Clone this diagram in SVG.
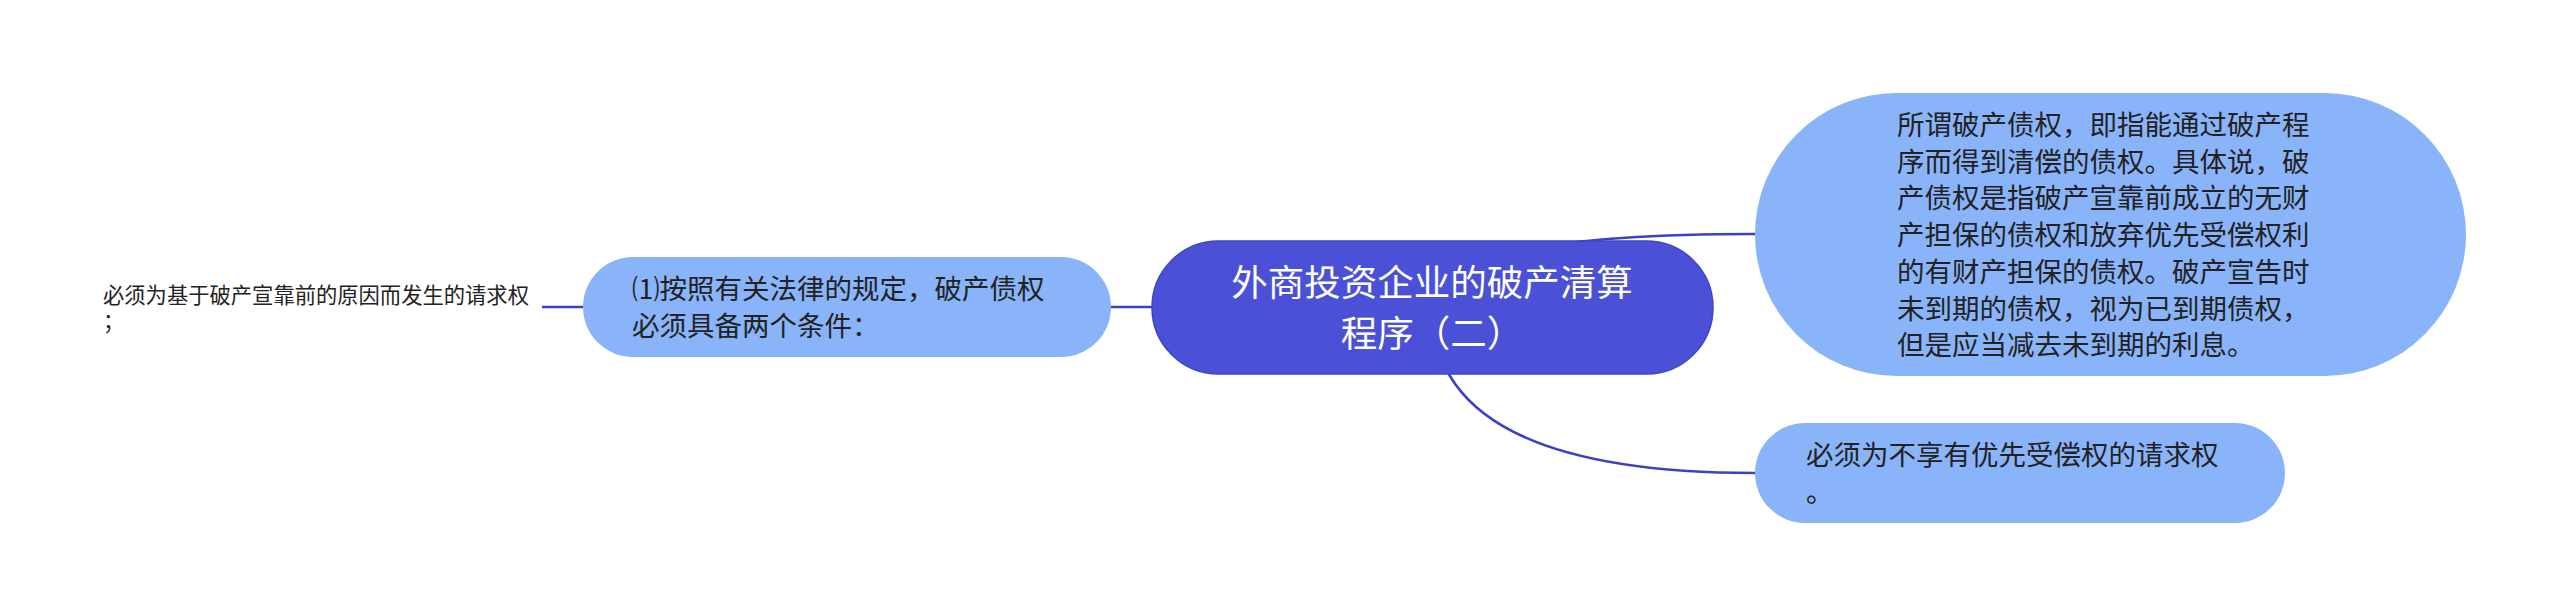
<svg xmlns="http://www.w3.org/2000/svg" width="2560" height="615" viewBox="0 0 2560 615">
  <style>
    .conn { fill: none; stroke: #3C40C2; stroke-width: 2.6; }
    .child { fill: #8AB4F9; }
    .root { fill: #4A51D7; stroke: #3E44C6; stroke-width: 1.5; }
    .t { font-family: "Noto Sans CJK SC", "Noto Sans", sans-serif; fill: #222222; }
    .rt { font-family: "Noto Sans CJK SC", "Noto Sans", sans-serif; fill: #FFFFFF; font-size: 36.5px; }
  </style>
  <rect width="2560" height="615" fill="#FFFFFF"/>
  <g id="connectors">
    <path class="conn" d="M1432 307 Q1432 234 1755 234"/>
    <path class="conn" d="M1432 307 Q1432 473 1755 473"/>
    <path class="conn" d="M1432 307 L847 307"/>
    <path class="conn" d="M847 307 L542 307"/>
  </g>
  <g id="root">
    <rect class="root" x="1152" y="241" width="561" height="133" rx="66.5"/>
    <text class="rt" text-anchor="middle"><tspan x="1432" y="296">外商投资企业的破产清算</tspan><tspan x="1432" y="347">程序（二）</tspan></text>
  </g>
  <g id="node-right-top">
    <rect class="child" x="1755" y="93" width="711" height="283" rx="141.5"/>
    <text class="t" font-size="27.5">
      <tspan x="1897" y="135">所谓破产债权，即指能通过破产程</tspan>
      <tspan x="1897" y="171.7">序而得到清偿的债权。具体说，破</tspan>
      <tspan x="1897" y="208.4">产债权是指破产宣靠前成立的无财</tspan>
      <tspan x="1897" y="245.1">产担保的债权和放弃优先受偿权利</tspan>
      <tspan x="1897" y="281.8">的有财产担保的债权。破产宣告时</tspan>
      <tspan x="1897" y="318.5">未到期的债权，视为已到期债权，</tspan>
      <tspan x="1897" y="355.2">但是应当减去未到期的利息。</tspan>
    </text>
  </g>
  <g id="node-right-bottom">
    <rect class="child" x="1755" y="423" width="530" height="100" rx="50"/>
    <text class="t" font-size="27.5"><tspan x="1806" y="465">必须为不享有优先受偿权的请求权</tspan><tspan x="1806" y="502">。</tspan></text>
  </g>
  <g id="node-left">
    <rect class="child" x="583" y="257" width="528" height="100" rx="50"/>
    <text class="t" font-size="27.5"><tspan x="632" y="299">⑴按照有关法律的规定，破产债权</tspan><tspan x="632" y="336">必须具备两个条件：</tspan></text>
  </g>
  <g id="node-far-left">
    <text class="t" font-size="21.3"><tspan x="103" y="303">必须为基于破产宣靠前的原因而发生的请求权</tspan><tspan x="103" y="329">；</tspan></text>
  </g>
</svg>
